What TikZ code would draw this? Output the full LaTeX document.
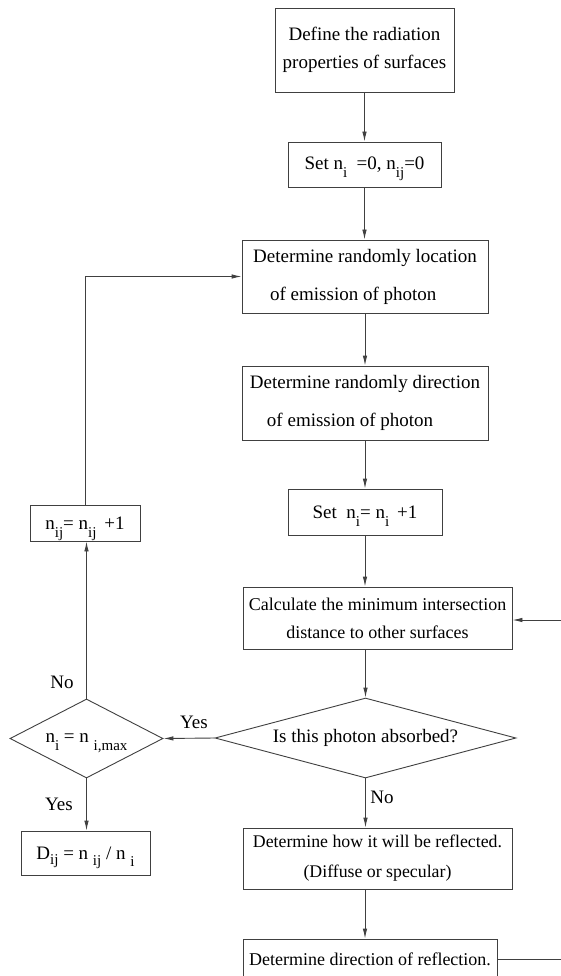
\documentclass[tikz,border=0pt]{standalone}
\usepackage{fontspec}
\setmainfont{Liberation Serif}
\usetikzlibrary{shapes.geometric,arrows.meta}
\newcommand\lsub[2][8pt]{\raisebox{-#1}[0pt][0pt]{\fontsize{15}{15}\selectfont #2}}
\begin{document}
\begin{tikzpicture}[x=1pt,y=-1pt,
  every node/.style={font=\fontsize{19}{28}\selectfont},
  box/.style={draw=black!75, line width=0.9pt, inner sep=0pt, align=center},
  dia/.style={draw=black!75, line width=0.9pt, diamond, inner sep=0pt},
  arr/.style={-{Latex[length=10pt,width=4.5pt]}, draw=black!75, line width=0.9pt},
  ln/.style={draw=black!75, line width=0.9pt},
  lbl/.style={inner sep=0pt}]
\clip (0,0) rectangle (561,976);
\fill[white] (0,0) rectangle (561,976);

\node[box, minimum width=179pt, minimum height=84pt] (b1) at (364.5,50) {Define the radiation\\properties of surfaces};
\node[box, minimum width=153pt, minimum height=45pt] (b2) at (364.5,164.5) {Set n\lsub{i} \ =0, n\lsub{ij}=0};
\node[box, minimum width=246pt, minimum height=73pt, align=left, font=\fontsize{19}{38}\selectfont] (b3) at (365,276.5) {Determine randomly location\\\hspace*{17pt}of emission of photon};
\node[box, minimum width=246pt, minimum height=74pt, align=left, font=\fontsize{19}{38}\selectfont] (b4) at (365,403) {Determine randomly direction\\\hspace*{17pt}of emission of photon};
\node[box, minimum width=154pt, minimum height=46pt] (b5) at (365,512) {Set\ \ n\lsub{i}= n\lsub{i} \,+1};
\node[box, minimum width=269pt, minimum height=62pt, font=\fontsize{18}{28}\selectfont] (b6) at (377.5,618) {Calculate the minimum intersection\\distance to other surfaces};
\node[dia, aspect=3.76, minimum width=301pt, minimum height=80pt] (d1) at (365.5,738) {Is this photon absorbed?};
\node[box, minimum width=269pt, minimum height=61pt, font=\fontsize{17.8}{30}\selectfont] (b7) at (377.5,858.5) {Determine how it will be reflected.\\(Diffuse or specular)};
\node[box, minimum width=254pt, minimum height=40pt, font=\fontsize{18}{28}\selectfont] (b8) at (370,959) {Determine direction of reflection.};

\node[box, minimum width=110pt, minimum height=36pt] (bn) at (85,523) {n\lsub{ij}= n\lsub{ij} \,+1};
\node[dia, aspect=1.94, minimum width=153pt, minimum height=79pt] (d2) at (86.5,738.5) {n\lsub{i} = n \lsub{i,max}};
\node[box, minimum width=129pt, minimum height=44pt] (bD) at (85.5,853) {D\lsub[5pt]{ij} = n \lsub[6pt]{ij} / n \lsub[7pt]{i}};

\node[lbl] (yes1) at (194,722) {Yes};
\node[lbl] (no1) at (382,797) {No};
\node[lbl] (no2) at (62,682) {No};
\node[lbl] (yes2) at (59,804) {Yes};

\coordinate (eR1) at (561,959);
\coordinate (eR2) at (561,620);

\draw[arr] (b1.south) -- (b1.south |- b2.north);
\draw[arr] (b2.south) -- (b2.south |- b3.north);
\draw[arr] (b3.south) -- (b3.south |- b4.north);
\draw[arr] (b4.south) -- (b4.south |- b5.north);
\draw[arr] (b5.south) -- (b5.south |- b6.north);
\draw[arr] (d1.north |- b6.south) -- (d1.north);
\draw[arr] (d1.south) -- (d1.south |- b7.north);
\draw[arr] (b7.south -| b5.south) -- (b5.south |- b8.north);
\draw[ln] (b8.east) -- (eR1);
\draw[arr] (eR2) -- (b6.east |- eR2);
\draw[arr] (d1.west) -- (d2.east);
\draw[arr] (d2.north) -- (d2.north |- bn.south);
\draw[arr] (bn.north) |- (b3.west);
\draw[arr] (d2.south) -- (d2.south |- bD.north);
\end{tikzpicture}
\end{document}
